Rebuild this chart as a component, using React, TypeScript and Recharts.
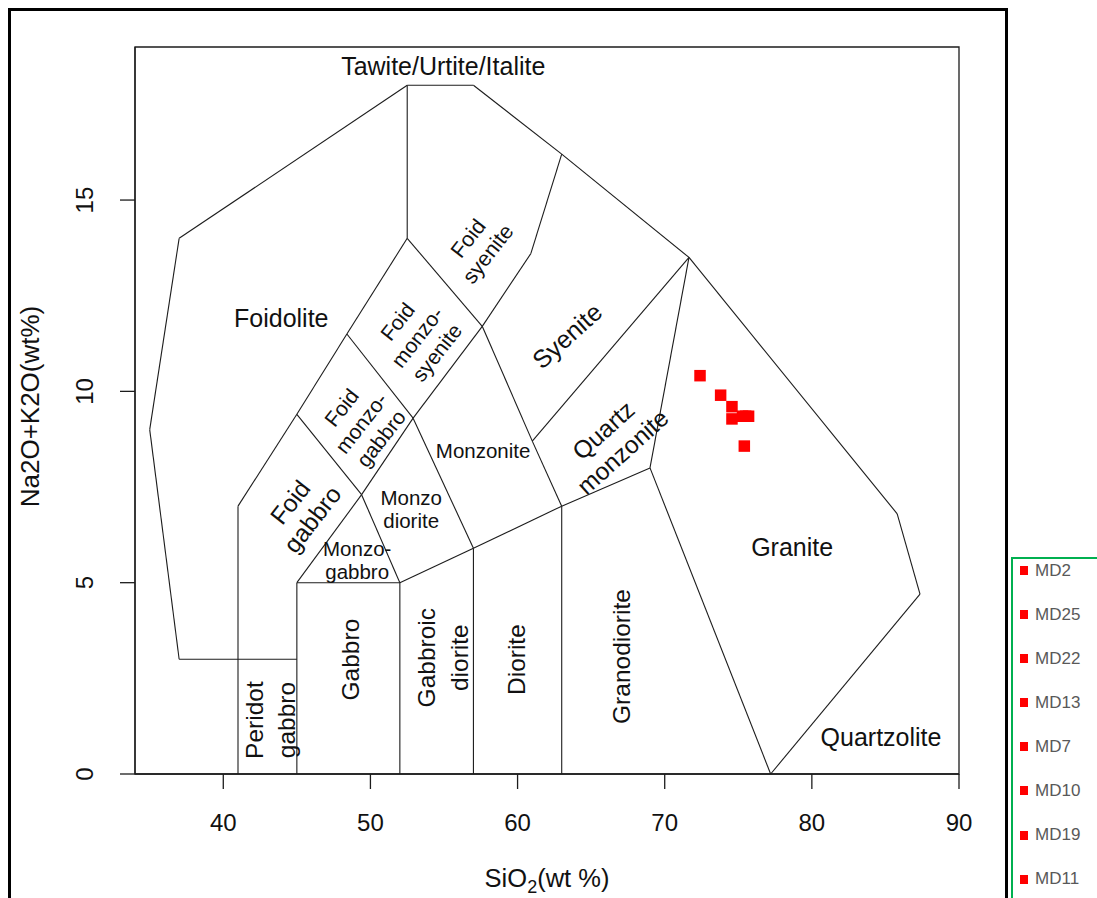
import React from 'react';
import { ScatterChart, Scatter, XAxis, YAxis, ReferenceLine, ReferenceArea, ReferenceDot, Legend, Label } from 'recharts';

const FONT = '"Liberation Sans", Arial, Helvetica, sans-serif';
const INK = '#111';
const LINE = '#1c1c1c';

// Samples: SiO2 vs total alkalis (wt %)
const sampleNames = ['MD2', 'MD25', 'MD22', 'MD13', 'MD7', 'MD10', 'MD19', 'MD11'];
const sio2 = [72.4, 73.8, 74.57, 74.57, 75.29, 75.7, 75.5, 75.41];
const alkalis = [10.41, 9.9, 9.6, 9.28, 9.35, 9.35, 9.35, 8.57];

const xTicks = [40, 50, 60, 70, 80, 90];
const yTicks = [0, 5, 10, 15];
const xDomain: [number, number] = [34, 90];
const yDomain: [number, number] = [0, 19];

// Field boundaries of the plutonic TAS diagram (Middlemost 1994), as polylines
const outerLimit: [number, number][] = [
  [45, 3], [37, 3], [35, 9], [37, 14], [52.5, 18], [57, 18], [63, 16.2],
  [71.65, 13.5], [85.8, 6.8], [87.35, 4.7], [77.2, 0],
];
const foidLimit: [number, number][] = [[41, 0], [41, 7], [45, 9.4], [48.4, 11.5], [52.5, 14], [57.6, 11.7]];
const gabbroTop: [number, number][] = [[45, 0], [45, 5], [52, 5]];
const dioriteTop: [number, number][] = [[52, 0], [52, 5], [57, 5.9], [63, 7], [69, 8], [77.2, 0]];
const dioriteSide: [number, number][] = [[57, 0], [57, 5.9]];
const granodioriteSide: [number, number][] = [[63, 0], [63, 7]];
const graniteSide: [number, number][] = [[69, 8], [71.65, 13.5]];
const monzoniteSide: [number, number][] = [[57.6, 11.7], [61, 8.7], [63, 7]];
const syeniteBase: [number, number][] = [[61, 8.7], [71.65, 13.5]];
const foidSyeniteLeft: [number, number][] = [[52.5, 14], [52.5, 18]];
const foidSyeniteRight: [number, number][] = [[57.6, 11.7], [60.9, 13.6], [63, 16.2]];
const monzoLower: [number, number][] = [[45, 5], [49.4, 7.3], [52.9, 9.3], [57.6, 11.7]];
const foidGabbroRight: [number, number][] = [[45, 9.4], [49.4, 7.3], [52, 5]];
const foidMonzoRight: [number, number][] = [[48.4, 11.5], [52.9, 9.3], [57, 5.9]];

const boundaries = [
  outerLimit, foidLimit, gabbroTop, dioriteTop, dioriteSide, granodioriteSide, graniteSide,
  monzoniteSide, syeniteBase, foidSyeniteLeft, foidSyeniteRight, monzoLower, foidGabbroRight, foidMonzoRight,
];

const segments = boundaries.flatMap((line) =>
  line.slice(1).map((p, i) => [
    { x: line[i][0], y: line[i][1] },
    { x: p[0], y: p[1] },
  ])
);

// Field names and where they sit (SiO2, alkalis)
const fieldNames = [
  ['Tawite/Urtite/Italite'],
  ['Foidolite'],
  ['Foid', 'syenite'],
  ['Foid', 'monzo-', 'syenite'],
  ['Foid', 'monzo-', 'gabbro'],
  ['Foid', 'gabbro'],
  ['Syenite'],
  ['Quartz', 'monzonite'],
  ['Monzonite'],
  ['Monzo', 'diorite'],
  ['Monzo-', 'gabbro'],
  ['Gabbro'],
  ['Gabbroic', 'diorite'],
  ['Diorite'],
  ['Granodiorite'],
  ['Peridot', 'gabbro'],
  ['Granite'],
  ['Quartzolite'],
];
const fieldX = [54.95, 43.94, 57.3, 53.18, 49.38, 45.3, 63.37, 66.49, 57.66, 52.77, 49.1, 48.63, 54.95, 59.9, 67.04, 43.19, 78.66, 84.7];
const fieldY = [18.5, 11.92, 13.8, 11.42, 9.17, 6.88, 11.45, 8.7, 8.44, 6.92, 5.58, 2.99, 3.04, 2.99, 3.07, 1.41, 5.92, 0.97];

// rotation, font size, line step for each field name
const fieldStyle = [
  { angle: 0, size: 25, step: 0 },
  { angle: 0, size: 25, step: 0 },
  { angle: -52, size: 21.5, step: 25 },
  { angle: -52, size: 21, step: 25 },
  { angle: -52, size: 21, step: 25 },
  { angle: -52, size: 24.5, step: 28 },
  { angle: -42, size: 25, step: 0 },
  { angle: -42, size: 24.5, step: 29 },
  { angle: 0, size: 20.5, step: 0 },
  { angle: 0, size: 20.5, step: 23 },
  { angle: 0, size: 20.5, step: 23.5 },
  { angle: -90, size: 24.5, step: 0 },
  { angle: -90, size: 24.5, step: 33 },
  { angle: -90, size: 24.5, step: 0 },
  { angle: -90, size: 24.5, step: 0 },
  { angle: -90, size: 24.5, step: 32 },
  { angle: 0, size: 25, step: 0 },
  { angle: 0, size: 25, step: 0 },
];

const FieldText = ({ cx, cy, lines, angle, size, step }: any) => {
  const first = cy - ((lines.length - 1) / 2) * step + size * 0.35;
  return (
    <text
      x={cx}
      y={first}
      transform={angle ? `rotate(${angle}, ${cx}, ${cy})` : undefined}
      textAnchor="middle"
      fontSize={size}
      fontFamily={FONT}
      fill={INK}
    >
      {lines.map((t: string, i: number) => (
        <tspan key={t + i} x={cx} y={first + i * step}>{t}</tspan>
      ))}
    </text>
  );
};

const SampleSquare = (props: any) => {
  const { cx, cy, fill } = props;
  const s = 11.5;
  return <rect x={cx - s / 2} y={cy - s / 2} width={s} height={s} fill={fill} />;
};

const renderXTick = (props: any) => {
  const { x, y, payload } = props;
  return (
    <text x={x} y={y + 42} textAnchor="middle" fontSize={24} fontFamily={FONT} fill={INK}>
      {payload.value}
    </text>
  );
};

const renderYTick = (props: any) => {
  const { x, y, payload } = props;
  const bx = x - 27;
  return (
    <text x={bx} y={y} transform={`rotate(-90, ${bx}, ${y})`} textAnchor="middle" fontSize={24} fontFamily={FONT} fill={INK}>
      {payload.value}
    </text>
  );
};

const SampleLegend = ({ payload }: any) => {
  const items = [...(payload || [])].sort(
    (a: any, b: any) => sampleNames.indexOf(a.value) - sampleNames.indexOf(b.value)
  );
  return (
    <div
      style={{
        borderLeft: '2px solid #00B050',
        borderTop: '2px solid #00B050',
        width: '100%',
        height: '100%',
        boxSizing: 'border-box',
        paddingTop: 2,
        paddingLeft: 7,
        fontFamily: FONT,
        fontSize: 17,
        color: '#595959',
      }}
    >
      {items.map((entry: any) => (
        <div key={entry.value} style={{ display: 'flex', alignItems: 'center', height: 19, marginBottom: 25.1 }}>
          <span style={{ width: 8, height: 9, background: entry.color, marginRight: 7, flex: 'none' }} />
          <span>{entry.value}</span>
        </div>
      ))}
    </div>
  );
};

export default function App() {
  return (
    <div style={{ position: 'absolute', left: 0, top: 0, width: 1097, height: 898, overflow: 'hidden', background: '#fff' }}>
      <div
        style={{
          position: 'absolute',
          left: 8,
          top: 8,
          width: 1000,
          height: 1000,
          border: '3px solid #000',
          boxSizing: 'border-box',
        }}
      />
      <div style={{ position: 'absolute', left: 0, top: 0 }}>
        <ScatterChart width={1097} height={898} margin={{ top: 47, right: 138, bottom: 44, left: 75 }}>
          <XAxis
            type="number"
            dataKey="x"
            domain={xDomain}
            ticks={xTicks}
            interval={0}
            allowDataOverflow
            height={80}
            tickSize={15}
            tickMargin={0}
            axisLine={{ stroke: LINE, strokeWidth: 1.3 }}
            tickLine={{ stroke: LINE, strokeWidth: 1.3 }}
            tick={renderXTick}
          >
            <Label
              content={({ viewBox }: any) => {
                const cx = viewBox.x + viewBox.width / 2;
                const by = viewBox.y + 113;
                return (
                  <text x={cx} y={by} textAnchor="middle" fontSize={25.5} fontFamily={FONT} fill={INK}>
                    <tspan>SiO</tspan>
                    <tspan fontSize={18} dy={6}>2</tspan>
                    <tspan dy={-6}>(wt %)</tspan>
                  </text>
                );
              }}
            />
          </XAxis>
          <YAxis
            type="number"
            dataKey="y"
            domain={yDomain}
            ticks={yTicks}
            interval={0}
            allowDataOverflow
            width={60}
            tickSize={15}
            tickMargin={0}
            axisLine={{ stroke: LINE, strokeWidth: 1.3 }}
            tickLine={{ stroke: LINE, strokeWidth: 1.3 }}
            tick={renderYTick}
          >
            <Label
              content={({ viewBox }: any) => {
                const cy = viewBox.y + viewBox.height / 2 - 4;
                const bx = 39;
                return (
                  <text x={bx} y={cy} transform={`rotate(-90, ${bx}, ${cy})`} textAnchor="middle" fontSize={26} fontFamily={FONT} fill={INK}>
                    Na2O+K2O(wt%)
                  </text>
                );
              }}
            />
          </YAxis>

          <ReferenceArea x1={xDomain[0]} x2={xDomain[1]} y1={yDomain[0]} y2={yDomain[1]} fill="none" stroke={LINE} strokeWidth={1.3} />

          {segments.map((seg, i) => (
            <ReferenceLine key={`b${i}`} segment={seg} stroke={LINE} strokeWidth={1.1} />
          ))}

          {fieldNames.map((lines, i) => (
            <ReferenceDot
              key={`f${i}`}
              x={fieldX[i]}
              y={fieldY[i]}
              r={0}
              ifOverflow="visible"
              shape={(p: any) => <FieldText cx={p.cx} cy={p.cy} lines={lines} {...fieldStyle[i]} />}
            />
          ))}

          {sampleNames.map((name, i) => (
            <Scatter
              key={name}
              name={name}
              data={[{ x: sio2[i], y: alkalis[i] }]}
              fill="#FF0000"
              legendType="square"
              shape={SampleSquare}
              isAnimationActive={false}
            />
          ))}

          <Legend
            layout="vertical"
            align="center"
            verticalAlign="middle"
            width={100}
            height={360}
            wrapperStyle={{ left: 1011, top: 557, width: 100, height: 360 }}
            content={SampleLegend}
          />
        </ScatterChart>
      </div>
    </div>
  );
}
